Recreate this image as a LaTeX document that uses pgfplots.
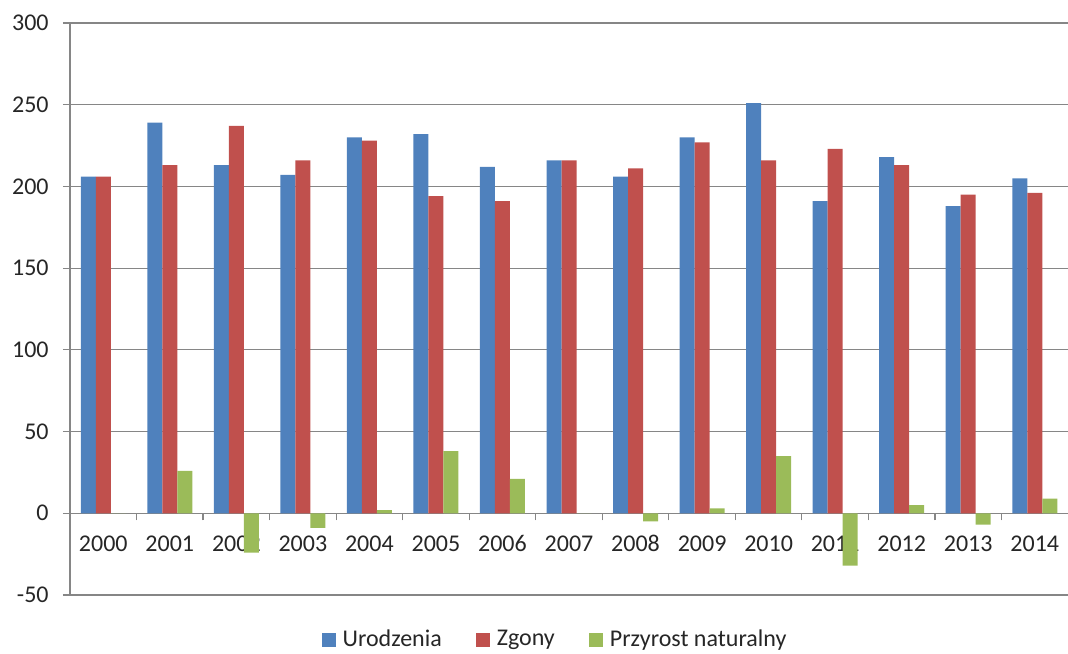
\documentclass[border=0pt]{standalone}
\usepackage{fontspec}
\setmainfont{Carlito}
\usepackage{pgfplots}
\pgfplotsset{compat=1.18}
\definecolor{xlblue}{HTML}{4F81BD}
\definecolor{xlred}{HTML}{C0504D}
\definecolor{xlgreen}{HTML}{9BBB59}
\definecolor{xlgrid}{HTML}{868686}

\begin{document}
\fontsize{12pt}{14pt}\selectfont
\begin{tikzpicture}
\begin{axis}[
    scale only axis,
    width=499pt,
    height=286pt,
    ybar=0pt,
    bar width=7.5pt,
    xmin=-0.5, xmax=14.5,
    ymin=-50, ymax=300,
    ytick={-50,0,...,300},
    xtick={0,...,14},
    xticklabels={2000,2001,2002,2003,2004,2005,2006,2007,2008,2009,2010,2011,2012,2013,2014},
    minor xtick={0.5,1.5,...,13.5},
    axis x line=middle,
    axis y line=left,
    axis line style={xlgrid, line width=0.6pt, -},
    major x tick style={draw=none},
    minor x tick style={xlgrid, line width=0.6pt, yshift=-1.75pt},
    xtick align=center,
    ytick align=outside,
    ytick pos=left,
    major tick length=3.5pt,
    minor tick length=3.5pt,
    y tick style={xlgrid, line width=0.6pt},
    ymajorgrids=true,
    grid style={xlgrid, line width=0.6pt},
    tick label style={font=\fontsize{12pt}{14pt}\selectfont, text=black!85},
    xticklabel style={anchor=north, text height=8.5pt, text depth=0pt, yshift=-4.8pt},
    yticklabel style={xshift=-3pt},
    /pgf/number format/assume math mode=true,
    legend style={at={(0.487,0)}, anchor=center, yshift=-22.5pt, draw=none,
        font=\fontsize{12pt}{14pt}\selectfont, text=black!85,
        legend columns=3,
        /tikz/every odd column/.append style={column sep=1.5pt},
        /tikz/every even column/.append style={column sep=15pt}},
    legend image code/.code={\fill[#1] (0pt,-3.3pt) rectangle (7pt,3.3pt);},
]
\addplot[fill=xlblue, draw=none] coordinates {
    (0,206) (1,239) (2,213) (3,207) (4,230) (5,232) (6,212) (7,216)
    (8,206) (9,230) (10,251) (11,191) (12,218) (13,188) (14,205)
};
\addplot[fill=xlred, draw=none] coordinates {
    (0,206) (1,213) (2,237) (3,216) (4,228) (5,194) (6,191) (7,216)
    (8,211) (9,227) (10,216) (11,223) (12,213) (13,195) (14,196)
};
\addplot[fill=xlgreen, draw=none] coordinates {
    (0,0) (1,26) (2,-24) (3,-9) (4,2) (5,38) (6,21) (7,0)
    (8,-5) (9,3) (10,35) (11,-32) (12,5) (13,-7) (14,9)
};
\legend{Urodzenia, Zgony, Przyrost naturalny}
\coordinate (sw) at (rel axis cs:0,0);
\coordinate (ne) at (rel axis cs:1,1);
\end{axis}
\pgfresetboundingbox
\path[use as bounding box] ([xshift=-35pt,yshift=-29pt]sw) rectangle ([yshift=11.5pt]ne);
\end{tikzpicture}
\end{document}
